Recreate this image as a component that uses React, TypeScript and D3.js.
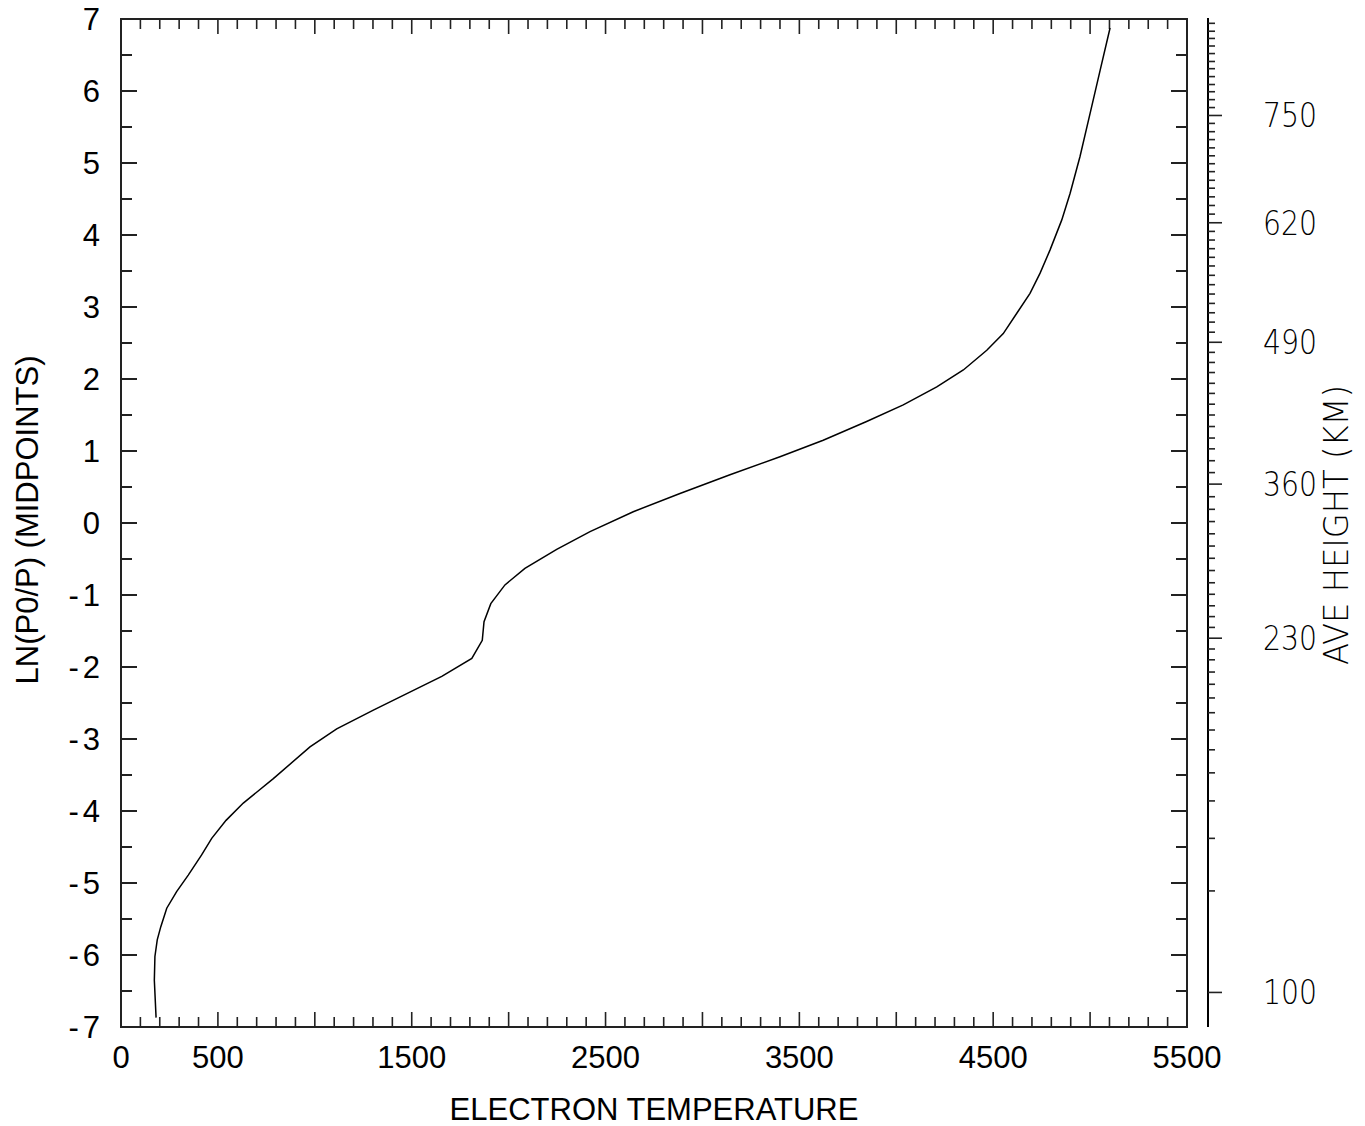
import React from "react";
import * as d3 from "d3";

// Electron temperature profile (x = temperature, y = ln(P0/P) at midpoints)
const tempValues = [181, 172, 175, 187, 205, 236, 287, 347, 416, 468, 542, 631, 786, 975, 1113, 1302, 1655, 1810, 1864, 1873, 1908, 1981, 2084, 2248, 2420, 2643, 2884, 3142, 3400, 3623, 3847, 4036, 4209, 4346, 4467, 4552, 4621, 4690, 4742, 4793, 4854, 4897, 4948, 5000, 5052, 5103];
const lnValues = [-6.87, -6.35, -6.02, -5.79, -5.61, -5.35, -5.12, -4.89, -4.61, -4.38, -4.13, -3.89, -3.55, -3.11, -2.86, -2.6, -2.13, -1.88, -1.63, -1.37, -1.12, -0.86, -0.63, -0.365, -0.12, 0.157, 0.41, 0.67, 0.92, 1.15, 1.41, 1.64, 1.89, 2.125, 2.4, 2.63, 2.91, 3.19, 3.47, 3.79, 4.21, 4.58, 5.09, 5.69, 6.29, 6.875];

// Average height axis: km ticks and ln(P0/P) where each height falls
const heightKm = [100, 110, 120, 130, 140, 150, 160, 170, 180, 190, 200, 210, 220, 230, 240, 250, 260, 270, 280, 290, 300, 310, 320, 330, 340, 350, 360, 370, 380, 390, 400, 410, 420, 430, 440, 450, 460, 470, 480, 490, 500, 510, 520, 530, 540, 550, 560, 570, 580, 590, 600, 610, 620, 630, 640, 650, 660, 670, 680, 690, 700, 710, 720, 730, 740, 750, 760, 770, 780, 790, 800, 810, 820, 830, 840, 850, 860, 870];
const heightLn = [-6.52, -5.11, -4.38, -3.86, -3.47, -3.15, -2.875, -2.635, -2.43, -2.24, -2.07, -1.9, -1.75, -1.6, -1.45, -1.3, -1.15, -0.99, -0.83, -0.66, -0.49, -0.32, -0.15, 0.02, 0.19, 0.365, 0.54, 0.7, 0.865, 1.03, 1.18, 1.34, 1.5, 1.65, 1.8, 1.94, 2.09, 2.23, 2.37, 2.51, 2.65, 2.79, 2.92, 3.05, 3.18, 3.31, 3.44, 3.57, 3.69, 3.81, 3.93, 4.05, 4.17, 4.29, 4.41, 4.53, 4.65, 4.76, 4.88, 4.99, 5.1, 5.21, 5.325, 5.435, 5.55, 5.66, 5.77, 5.88, 5.99, 6.09, 6.2, 6.31, 6.41, 6.52, 6.625, 6.73, 6.83, 6.94];
const heightLabels = [100, 230, 360, 490, 620, 750];

const xLabelTicks = [0, 500, 1500, 2500, 3500, 4500, 5500];
const yLabelTicks = [-7, -6, -5, -4, -3, -2, -1, 0, 1, 2, 3, 4, 5, 6, 7];

const X0 = 121, X1 = 1187, Y0 = 1027, Y1 = 19, RAX = 1208;

export default function App() {
  const x = d3.scaleLinear().domain([0, 5500]).range([X0, X1]);
  const y = d3.scaleLinear().domain([-7, 7]).range([Y0, Y1]);
  const xMinor = d3.range(0, 5501, 100);
  const yMinor = d3.range(-7, 7.001, 0.5);
  const pts = tempValues.map((t, i) => [t, lnValues[i]] as [number, number]);
  const line = d3.line<[number, number]>().x((d) => x(d[0])).y((d) => y(d[1]));
  const axisColor = "#222";
  const sans = "'Liberation Sans', Arial, sans-serif";
  const thin = "'DejaVu Sans', sans-serif";
  const fs = 31;
  return (
    <svg width={1365} height={1126} style={{ position: "absolute", left: 0, top: 0, background: "#fff" }}>
      <rect x={X0} y={Y1} width={X1 - X0} height={Y0 - Y1} fill="none" stroke={axisColor} strokeWidth={2} />
      {xMinor.map((v) => {
        const major = v % 500 === 0;
        const len = major ? 15 : 10;
        return (
          <g key={"xt" + v}>
            <line x1={x(v)} x2={x(v)} y1={Y0} y2={Y0 - len} stroke={axisColor} strokeWidth={1.6} />
            <line x1={x(v)} x2={x(v)} y1={Y1} y2={Y1 + len} stroke={axisColor} strokeWidth={1.6} />
          </g>
        );
      })}
      {yMinor.map((v) => {
        const major = Math.abs(v - Math.round(v)) < 1e-6;
        const len = major ? 16 : 11;
        return (
          <g key={"yt" + v}>
            <line x1={X0} x2={X0 + len} y1={y(v)} y2={y(v)} stroke={axisColor} strokeWidth={2} />
            <line x1={X1} x2={X1 - len} y1={y(v)} y2={y(v)} stroke={axisColor} strokeWidth={2} />
          </g>
        );
      })}
      {xLabelTicks.map((v) => (
        <text key={"xl" + v} x={x(v)} y={1068} textAnchor="middle" fontFamily={sans} fontSize={fs} fill="#000">
          {v}
        </text>
      ))}
      {yLabelTicks.map((v) => (
        <text key={"yl" + v} x={100} y={y(v)} dy="0.36em" textAnchor="end" fontFamily={sans} fontSize={fs} fill="#000">
          {v < 0 ? (
            <>
              <tspan>-</tspan>
              <tspan dx={4}>{Math.abs(v)}</tspan>
            </>
          ) : (
            v
          )}
        </text>
      ))}
      <text x={(X0 + X1) / 2} y={1120} textAnchor="middle" fontFamily={sans} fontSize={fs} fill="#000">
        ELECTRON TEMPERATURE
      </text>
      <text transform={`translate(38,${520}) rotate(-90)`} textAnchor="middle" fontFamily={sans} fontSize={fs} fill="#000">
        LN(P0/P) (MIDPOINTS)
      </text>
      <path d={line(pts) || ""} fill="none" stroke="#000" strokeWidth={1.5} />
      {/* right height axis */}
      <line x1={RAX} x2={RAX} y1={18} y2={Y0} stroke="#000" strokeWidth={2} />
      {heightKm.map((h, i) => {
        const major = heightLabels.includes(h);
        return (
          <line key={"ht" + h} x1={RAX} x2={RAX + (major ? 14 : 7)} y1={y(heightLn[i])} y2={y(heightLn[i])} stroke="#222" strokeWidth={1.6} />
        );
      })}
      {heightLabels.map((h) => {
        const i = heightKm.indexOf(h);
        return (
          <text key={"hl" + h} x={1263} y={y(heightLn[i])} dy="0.36em" fontFamily={thin} fontWeight={200} fontSize={33} textLength={54} lengthAdjust="spacingAndGlyphs" fill="#000">
            {h}
          </text>
        );
      })}
      <text transform={`translate(1348,525) rotate(-90)`} textAnchor="middle" fontFamily={thin} fontWeight={200} fontSize={33} textLength={280} lengthAdjust="spacingAndGlyphs" fill="#000">
        AVE HEIGHT (KM)
      </text>
    </svg>
  );
}
